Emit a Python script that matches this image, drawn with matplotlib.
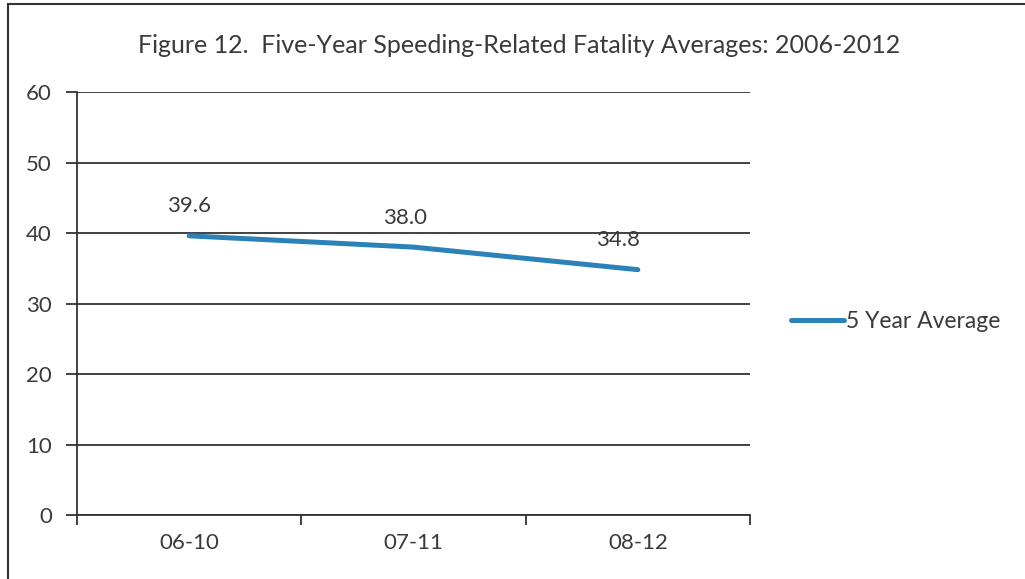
import matplotlib.pyplot as plt
from matplotlib.patches import Rectangle

# data
periods = ["06-10", "07-11", "08-12"]
avg_fatalities = [39.6, 38.0, 34.8]
y_ticks = [0, 10, 20, 30, 40, 50, 60]

TEXT = '#3a3a3a'
LINE = '#2a82b8'

plt.rcParams['font.family'] = ['Lato', 'DejaVu Sans']

fig = plt.figure(figsize=(10.25, 5.79), dpi=100)
ax = fig.add_axes([0.0751, 0.1105, 0.6566, 0.7306])

x = list(range(len(periods)))
ax.plot(x, avg_fatalities, color=LINE, lw=3.6, solid_capstyle='round',
        label="5 Year Average", zorder=3)

# the scanned labels drift left a bit along the series
label_dx = [0, -6, -14]
for xi, v, dx in zip(x, avg_fatalities, label_dx):
    ax.annotate(f"{v:.1f}", (xi, v), xytext=(dx, 14), textcoords='offset points',
                ha='center', va='bottom', fontsize=16, color=TEXT)

ax.set_xlim(-0.5, len(periods) - 0.5)
ax.set_ylim(0, 60)
ax.set_yticks(y_ticks)
ax.set_xticks(x)
ax.set_xticklabels(periods)
ax.set_xticks([i - 0.5 for i in range(len(periods) + 1)], minor=True)
ax.tick_params(axis='x', which='major', length=0, pad=13, labelsize=16, labelcolor=TEXT)
ax.tick_params(axis='x', which='minor', length=7, width=1.3, color='#333333', direction='out')
ax.tick_params(axis='y', length=8, width=1.3, color='#333333', pad=10, labelsize=16, labelcolor=TEXT)

ax.grid(axis='y', color='#333333', lw=1.3)
ax.set_axisbelow(True)
for s in ['top', 'right']:
    ax.spines[s].set_visible(False)
for s in ['left', 'bottom']:
    ax.spines[s].set_color('#333333')
    ax.spines[s].set_linewidth(1.3)

fig.text(0.506, 0.922, "Figure 12.  Five-Year Speeding-Related Fatality Averages: 2006-2012",
         ha='center', va='center', fontsize=18, color=TEXT)

ax.legend(loc='center left', bbox_to_anchor=(1.03, 0.458), frameon=False,
          fontsize=16.5, labelcolor=TEXT, handlelength=2.3, handletextpad=0.1)

# outer chart frame (right/bottom edges are cut off in the scan)
fig.patches.append(Rectangle((0.008, -0.05), 1.1, 1.043, transform=fig.transFigure,
                             fill=False, ec='#333333', lw=1.5))

fig.savefig("out.png", dpi=100)
